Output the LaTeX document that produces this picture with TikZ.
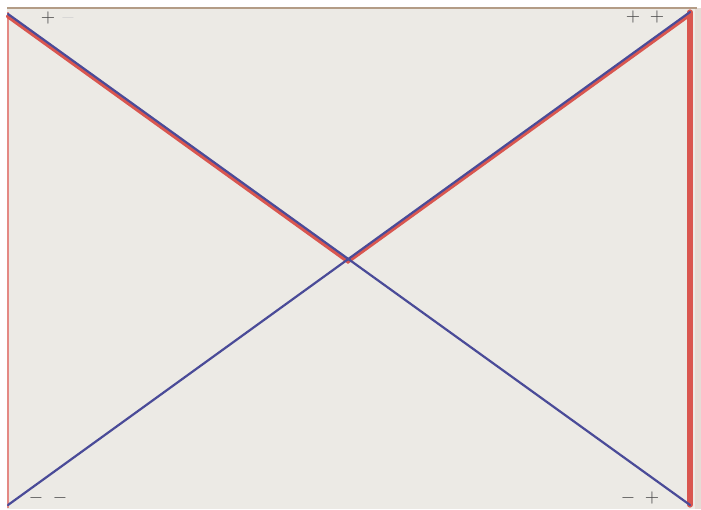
\documentclass[tikz,border=0pt]{standalone}
\usepackage{tikz}
\usetikzlibrary{positioning,calc}
\tikzset{folhapx/.style={x=0.5pt,y=-0.5pt,every node/.style={inner sep=0pt,outer sep=0pt,anchor=center,align=center}}}
\definecolor{papel}{HTML}{ECEAE5}
\definecolor{borda}{HTML}{B39C86}
\definecolor{linhaazul}{HTML}{4A4B98}
\definecolor{linhavermelha}{HTML}{D9564F}
\definecolor{sinal}{HTML}{4A4A4A}
\tikzset{
  azul/.style={draw=linhaazul,line width=1.1pt,line cap=round},
  vermelho/.style={draw=linhavermelha,line width=2pt,line cap=round},
  vermfino/.style={draw=linhavermelha!70,line width=0.7pt},
  sinalrot/.style={font=\small,text=sinal},
  apagado/.style={font=\small,text=sinal!25},
}
\begin{document}
\begin{tikzpicture}[folhapx]
  \fill[white] (0,0) rectangle (701,509);
  \useasboundingbox (0,0) rectangle (701,509);
  \fill[papel] (7,8) rectangle (697,509);
  \fill[borda!35] (695,8) rectangle (701,509);
  \draw[borda,line width=1pt] (7,8) -- (697,8);
  % cantos da folha
  \coordinate (se) at (8,14);
  \coordinate (sd) at (690,12);
  \coordinate (ie) at (8,505);
  \coordinate (id) at (690,505);
  \coordinate (c) at (348,259);
  % bordas vermelhas
  \draw[vermfino] (8,12) -- (8,508);
  \draw[vermelho,line width=2.6pt] (sd) -- (id);
  % diagonais
  \draw[vermelho] ([yshift=-1.2pt]se) -- ([yshift=-1.2pt]c) -- ([yshift=-1.2pt]sd);
  \draw[azul] (se) -- (id);
  \draw[azul] (ie) -- (sd);
  % sinais
  \node[sinalrot] (s1) at (48,18) {$+$};
  \node[apagado] (s2) at (68,18) {$-$};
  \node[sinalrot] (s3) at (633,17) {$+$};
  \node[sinalrot] (s4) at (657,17) {$+$};
  \node[sinalrot] (s5) at (36,498) {$-$};
  \node[sinalrot] (s6) at (60,498) {$-$};
  \node[sinalrot] (s7) at (628,498) {$-$};
  \node[sinalrot] (s8) at (652,498) {$+$};
\end{tikzpicture}
\end{document}
